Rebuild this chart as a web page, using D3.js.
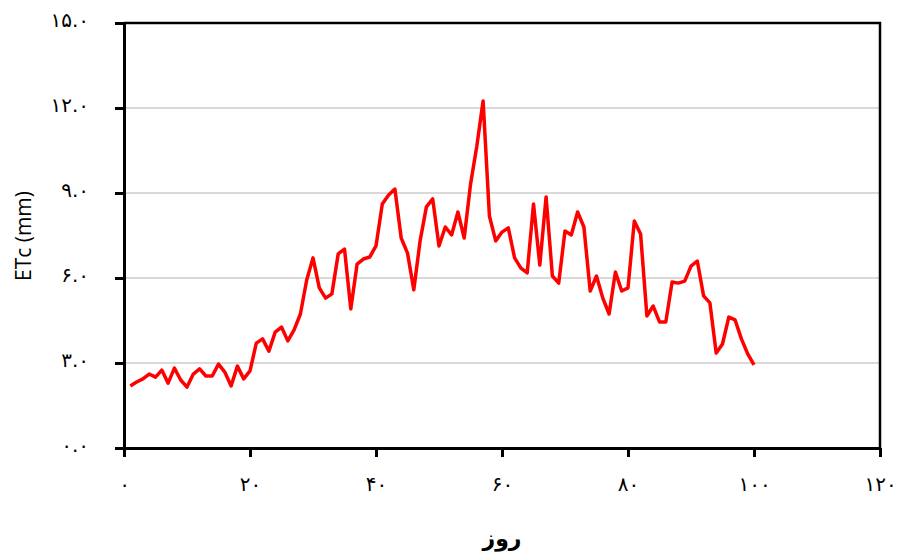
<!DOCTYPE html>
<html>
<head>
<meta charset="utf-8">
<script src="https://cdn.jsdelivr.net/npm/d3@7"></script>
<style>
  body { margin: 0; background: #fff; }
  svg { display: block; }
</style>
</head>
<body>
<svg id="chart" width="897" height="554"></svg>
<script>
// daily crop evapotranspiration, days 1..100
const etc = [
  2.19, 2.33, 2.44, 2.61, 2.50, 2.75, 2.29, 2.82, 2.40, 2.15,
  2.61, 2.79, 2.54, 2.54, 2.96, 2.68, 2.19, 2.89, 2.44, 2.72,
  3.70, 3.85, 3.42, 4.09, 4.27, 3.78, 4.17, 4.73, 5.93, 6.71,
  5.65, 5.29, 5.44, 6.85, 7.02, 4.91, 6.49, 6.67, 6.74, 7.13,
  8.61, 8.93, 9.14, 7.41, 6.88, 5.58, 7.31, 8.51, 8.79, 7.13,
  7.80, 7.52, 8.33, 7.41, 9.30, 10.65, 12.25, 8.19, 7.31, 7.62,
  7.77, 6.71, 6.35, 6.18, 8.61, 6.46, 8.86, 6.07, 5.82, 7.66,
  7.52, 8.33, 7.80, 5.54, 6.07, 5.29, 4.73, 6.21, 5.54, 5.65,
  8.01, 7.55, 4.66, 5.01, 4.45, 4.45, 5.86, 5.82, 5.89, 6.42,
  6.60, 5.37, 5.12, 3.35, 3.67, 4.62, 4.52, 3.85, 3.32, 2.93
];
const days = etc.map((v, i) => i + 1);

const xTicks = [0, 20, 40, 60, 80, 100, 120];
const yTicks = [0, 3, 6, 9, 12, 15];
const xTitle = "روز";
const yTitle = "ETc (mm)";

const svg = d3.select("#chart");
const plotL = 124, plotR = 880, plotT = 23, plotB = 448;

const x = d3.scaleLinear().domain([0, 120]).range([plotL, plotR]);
const y = d3.scaleLinear().domain([0, 15]).range([plotB, plotT]);

// persian digits
const fa = "۰۱۲۳۴۵۶۷۸۹";
const toFa = s => String(s).replace(/[0-9]/g, c => fa[+c]);

// gridlines
svg.append("g")
  .selectAll("line")
  .data(yTicks.filter(t => t > 0 && t < 15))
  .enter().append("line")
  .attr("x1", plotL).attr("x2", plotR)
  .attr("y1", d => y(d)).attr("y2", d => y(d))
  .style("stroke", "#d9d9d9")
  .style("stroke-width", "2px");

// top and right border
svg.append("path")
  .attr("d", `M${plotL},${plotT}H${plotR}V${plotB}`)
  .style("fill", "none")
  .style("stroke", "#000")
  .style("stroke-width", "2.5px");

const xAxis = svg.append("g")
  .attr("transform", `translate(0,${plotB})`)
  .call(d3.axisBottom(x).tickValues(xTicks).tickSize(9).tickFormat(d => toFa(d)).tickSizeOuter(0));

const yAxis = svg.append("g")
  .attr("transform", `translate(${plotL},0)`)
  .call(d3.axisLeft(y).tickValues(yTicks).tickSize(9).tickFormat(d => toFa(d.toFixed(1))).tickSizeOuter(0));

[xAxis, yAxis].forEach(a => {
  a.select(".domain").style("stroke", "#000").style("stroke-width", "3px");
  a.selectAll(".tick line").style("stroke", "#000").style("stroke-width", "3px");
  a.selectAll("text")
    .style("font-family", "DejaVu Sans")
    .style("font-size", "20px")
    .style("fill", "#000");
});
xAxis.selectAll("text").attr("y", 29);
yAxis.selectAll("text").attr("x", -35).attr("dy", "0.15em");

// line
const line = d3.line()
  .x((d, i) => x(days[i]))
  .y(d => y(d));

svg.append("path")
  .datum(etc)
  .attr("d", line)
  .style("fill", "none")
  .style("stroke", "#ff0000")
  .style("stroke-width", "3.5px")
  .style("stroke-linejoin", "round");

// titles
svg.append("text")
  .attr("x", 502).attr("y", 546)
  .attr("text-anchor", "middle")
  .style("font-family", "DejaVu Sans")
  .style("font-size", "22px")
  .style("font-weight", "bold")
  .text(xTitle);

svg.append("text")
  .attr("transform", "translate(31,236) rotate(-90)")
  .attr("text-anchor", "middle")
  .style("font-family", "Open Sans")
  .style("font-size", "21px")
  .text(yTitle);
</script>
</body>
</html>
